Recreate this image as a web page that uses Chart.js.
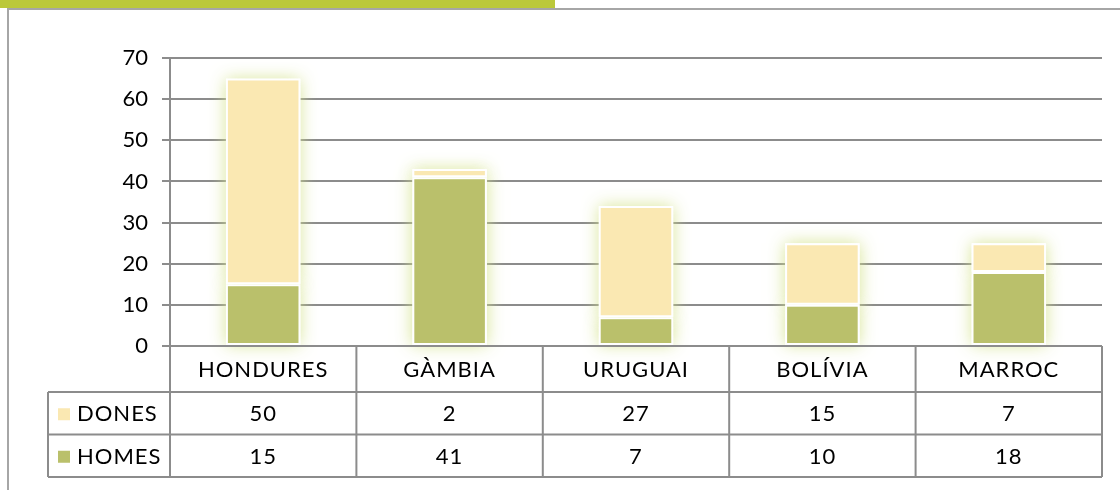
<!DOCTYPE html>
<html>
<head>
<meta charset="utf-8">
<script src="https://cdn.jsdelivr.net/npm/chart.js@4"></script>
<style>
  html, body { margin: 0; padding: 0; background: #fff; }
  #wrap { width: 1120px; height: 490px; }
</style>
</head>
<body>
<div id="wrap"><canvas id="barChart" width="1120" height="490"></canvas></div>
<script>
// dades del gràfic
const categories = ['HONDURES', 'GÀMBIA', 'URUGUAI', 'BOLÍVIA', 'MARROC'];
const dones = [50, 2, 27, 15, 7];
const homes = [15, 41, 7, 10, 18];
const yTicks = [0, 10, 20, 30, 40, 50, 60, 70];

const GREEN = '#bac06b';
const CREAM = '#fae8b2';
const LINE = '#8c8c8c';
const FONT = 'Lato, "Open Sans", sans-serif';

// marc i franja verda de la diapositiva
const frame = {
    id: 'frame',
    beforeDraw(chart) {
        const ctx = chart.ctx;
        ctx.save();
        ctx.fillStyle = '#bbc83a';
        ctx.fillRect(0, 0, 555, 8);
        ctx.strokeStyle = '#a6a6a6';
        ctx.lineWidth = 2;
        ctx.beginPath();
        ctx.moveTo(1120, 9);
        ctx.lineTo(8, 9);
        ctx.lineTo(8, 490);
        ctx.stroke();
        ctx.restore();
    }
};

// resplendor al voltant de les barres (a partir de la geometria de cada barra)
const glow = {
    id: 'glow',
    beforeDatasetsDraw(chart) {
        const ctx = chart.ctx;
        ctx.save();
        ctx.shadowColor = 'rgba(212,226,140,0.9)';
        ctx.shadowBlur = 16;
        ctx.fillStyle = '#fff';
        chart.data.datasets.forEach((ds, i) => {
            chart.getDatasetMeta(i).data.forEach(bar => {
                const { x, y, base, width } = bar.getProps(['x', 'y', 'base', 'width'], true);
                ctx.fillRect(x - width / 2, Math.min(y, base), width, Math.abs(base - y));
            });
        });
        ctx.restore();
    }
};

// taula de dades sota l'eix
const dataTable = {
    id: 'dataTable',
    afterDraw(chart) {
        const ctx = chart.ctx;
        const area = chart.chartArea;
        const x = chart.scales.x;
        const n = categories.length;
        const colW = (area.right - area.left) / n;
        const top = area.bottom;
        const hdr = 46, rowH = 42.5, legLeft = 48;
        const rows = [
            { label: 'DONES', color: CREAM, values: dones },
            { label: 'HOMES', color: GREEN, values: homes }
        ];
        const bottom = top + hdr + rowH * rows.length;

        ctx.save();
        ctx.strokeStyle = LINE;
        ctx.lineWidth = 2;
        ctx.beginPath();
        ctx.moveTo(area.left, top);
        ctx.lineTo(area.right, top);
        for (let r = 0; r <= rows.length; r++) {
            const y = top + hdr + r * rowH;
            ctx.moveTo(legLeft, y);
            ctx.lineTo(area.right, y);
        }
        for (let i = 0; i <= n; i++) {
            const cx = area.left + i * colW;
            ctx.moveTo(cx, top);
            ctx.lineTo(cx, bottom);
        }
        ctx.moveTo(legLeft, top + hdr);
        ctx.lineTo(legLeft, bottom);
        ctx.stroke();

        ctx.fillStyle = '#000';
        ctx.font = '22px ' + FONT;
        ctx.textAlign = 'center';
        ctx.textBaseline = 'middle';
        ctx.letterSpacing = '1px';
        categories.forEach((c, i) => {
            ctx.fillText(c, x.getPixelForValue(i), top + hdr / 2 + 1);
        });
        rows.forEach((row, r) => {
            const cy = top + hdr + r * rowH + rowH / 2 + 1;
            ctx.fillStyle = row.color;
            ctx.fillRect(58, cy - 6, 12, 12);
            ctx.fillStyle = '#000';
            ctx.textAlign = 'left';
            ctx.fillText(row.label, 77, cy);
            ctx.textAlign = 'center';
            row.values.forEach((v, i) => {
                ctx.fillText(String(v), x.getPixelForValue(i), cy);
            });
        });
        ctx.restore();
    }
};

const ctx = document.getElementById('barChart').getContext('2d');
new Chart(ctx, {
    type: 'bar',
    data: {
        labels: categories,
        datasets: [
            {
                label: 'HOMES',
                data: homes,
                backgroundColor: GREEN,
                borderColor: '#fff',
                borderWidth: 2,
                borderSkipped: false
            },
            {
                label: 'DONES',
                data: dones,
                backgroundColor: CREAM,
                borderColor: '#fff',
                borderWidth: 2,
                borderSkipped: false
            }
        ]
    },
    options: {
        responsive: false,
        animation: false,
        layout: { padding: { top: 58, right: 18, bottom: 144, left: 0 } },
        datasets: { bar: { categoryPercentage: 1, barPercentage: 0.4 } },
        plugins: {
            legend: { display: false },
            tooltip: { enabled: false }
        },
        scales: {
            x: {
                stacked: true,
                display: false
            },
            y: {
                stacked: true,
                min: yTicks[0],
                max: yTicks[yTicks.length - 1],
                afterFit(scale) { scale.width = 170; },
                afterBuildTicks(scale) { scale.ticks = yTicks.map(v => ({ value: v })); },
                ticks: {
                    color: '#000',
                    padding: 14,
                    font: { family: FONT, size: 22 }
                },
                grid: { color: LINE, lineWidth: 2, tickLength: 8 },
                border: { color: LINE, width: 2 }
            }
        }
    },
    plugins: [frame, glow, dataTable]
});
</script>
</body>
</html>
